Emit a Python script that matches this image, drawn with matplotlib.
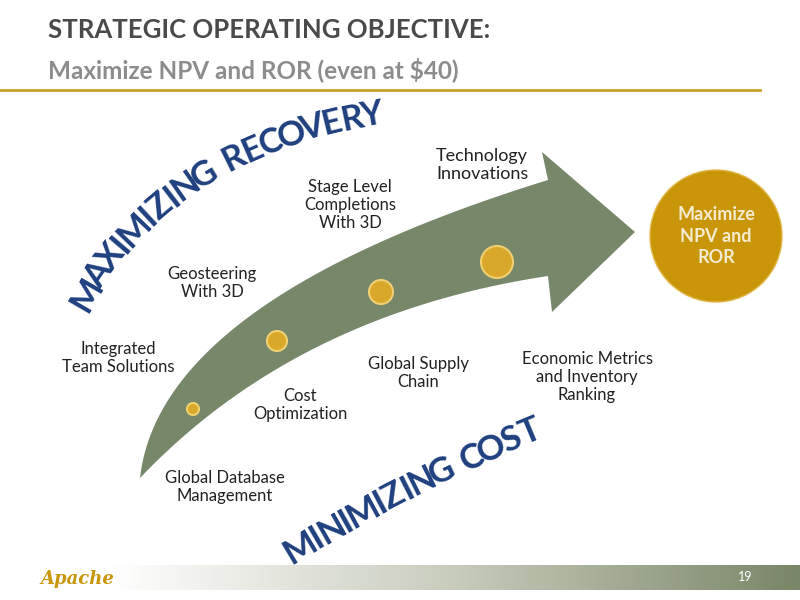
import numpy as np
import matplotlib
matplotlib.use("Agg")
import matplotlib.pyplot as plt
from matplotlib.patches import Polygon, Circle
from matplotlib.colors import LinearSegmentedColormap

title = "STRATEGIC OPERATING OBJECTIVE:"
subtitle = "Maximize NPV and ROR (even at $40)"
upper_labels = ["Integrated\nTeam Solutions", "Geosteering\nWith 3D", "Stage Level\nCompletions\nWith 3D", "Technology\nInnovations"]
lower_labels = ["Global Database\nManagement", "Cost\nOptimization", "Global Supply\nChain", "Economic Metrics\nand Inventory\nRanking"]
goal = "Maximize\nNPV and\nROR"
arc_top = "MAXIMIZING RECOVERY"
arc_bottom = "MINIMIZING COST"
page = "19"

FONT = "Lato"
fig = plt.figure(figsize=(8, 6), dpi=100)
ax = fig.add_axes([0, 0, 1, 1])
ax.set_xlim(0, 800); ax.set_ylim(600, 0); ax.axis("off")

ax.text(48, 30, title, fontsize=18.5, fontweight="bold", color="#4a4a4a", family=FONT, va="center")
ax.text(48, 70, subtitle, fontsize=17.5, fontweight="bold", color="#8c8c8c", family=FONT, va="center")
ax.plot([0, 760], [90, 90], color="#c9a227", lw=2)

def bez(p0, c, p1, n=60):
    t = np.linspace(0, 1, n)[:, None]
    return (1-t)**2*np.array(p0) + 2*(1-t)*t*np.array(c) + t**2*np.array(p1)

up = bez((140, 478), (160, 300), (548, 180))
lo = bez((140, 478), (296, 314), (548, 276))
pts = np.vstack([up, [(542, 152), (635, 232), (552, 312), (548, 276)], lo[::-1]])
ax.add_patch(Polygon(pts, closed=True, fc="#76876a", ec="none"))

for (x, y, r) in [(193, 409, 6), (277, 341, 10), (381, 292, 12), (497, 262, 16)]:
    ax.add_patch(Circle((x, y), r, fc="#d9a82a", ec="#f0d070", lw=1.5))

ax.add_patch(Circle((716, 236), 66, fc="#c9960a", ec="#e0b84a", lw=1))
ax.text(716, 236, goal, fontsize=13, fontweight="bold", color="#f5ecd0", family=FONT, ha="center", va="center", linespacing=1.3)

upos = [(118, 358), (212, 283), (350, 205), (482, 165)]
lpos = [(225, 487), (300, 405), (418, 373), (587, 377)]
for j, (s, (x, y)) in enumerate(zip(upper_labels, upos)):
    ax.text(x, y, s, fontsize=13 if j == 3 else 12, color="#222222", family=FONT, ha="center", va="center", linespacing=1.15)
for s, (x, y) in zip(lower_labels, lpos):
    ax.text(x, y, s, fontsize=12, color="#222222", family=FONT, ha="center", va="center", linespacing=1.15)

blue = "#1f3f7f"
W = {"M": 1.35, "W": 1.4, "I": 0.55, " ": 0.55, "C": 1.0, "O": 1.15, "G": 1.1, "N": 1.1, "Z": 0.95, "X": 1.0, "A": 1.05}

def place(text, curve, fs):
    seg = np.r_[0, np.cumsum(np.hypot(*np.diff(curve, axis=0).T))]
    w = np.array([W.get(c, 1.0) for c in text])
    centers = np.cumsum(w) - w / 2
    centers = (centers - centers[0]) / (centers[-1] - centers[0]) * seg[-1]
    for ch, d in zip(text, centers):
        k = int(np.clip(np.searchsorted(seg, d), 1, len(seg) - 1))
        x, y = curve[k]
        dx, dy = curve[k] - curve[k-1]
        ang = np.degrees(np.arctan2(-dy, dx))
        ax.text(x, y, ch, fontsize=fs, fontweight="bold", color=blue, family=FONT,
                ha="center", va="center", rotation=ang, rotation_mode="anchor")

place(arc_top, bez((86, 295), (170, 150), (372, 115), 500), 25)
place(arc_bottom, bez((300, 548), (410, 482), (530, 432), 500), 25)

grad = np.linspace(0, 1, 256)[None, :]
cm = LinearSegmentedColormap.from_list("g", ["#ffffff", "#c8ccbc", "#7a8668"])
ax.imshow(grad, cmap=cm, extent=[110, 800, 590, 565], aspect="auto", zorder=0)
ax.set_xlim(0, 800); ax.set_ylim(600, 0)
ax.text(745, 577, page, fontsize=9, color="white", family=FONT, ha="center", va="center")
ax.text(40, 579, "Apache", fontsize=13, fontstyle="italic", fontweight="bold", color="#c9960a", family="DejaVu Serif", va="center")

fig.savefig("out.png", dpi=100)
